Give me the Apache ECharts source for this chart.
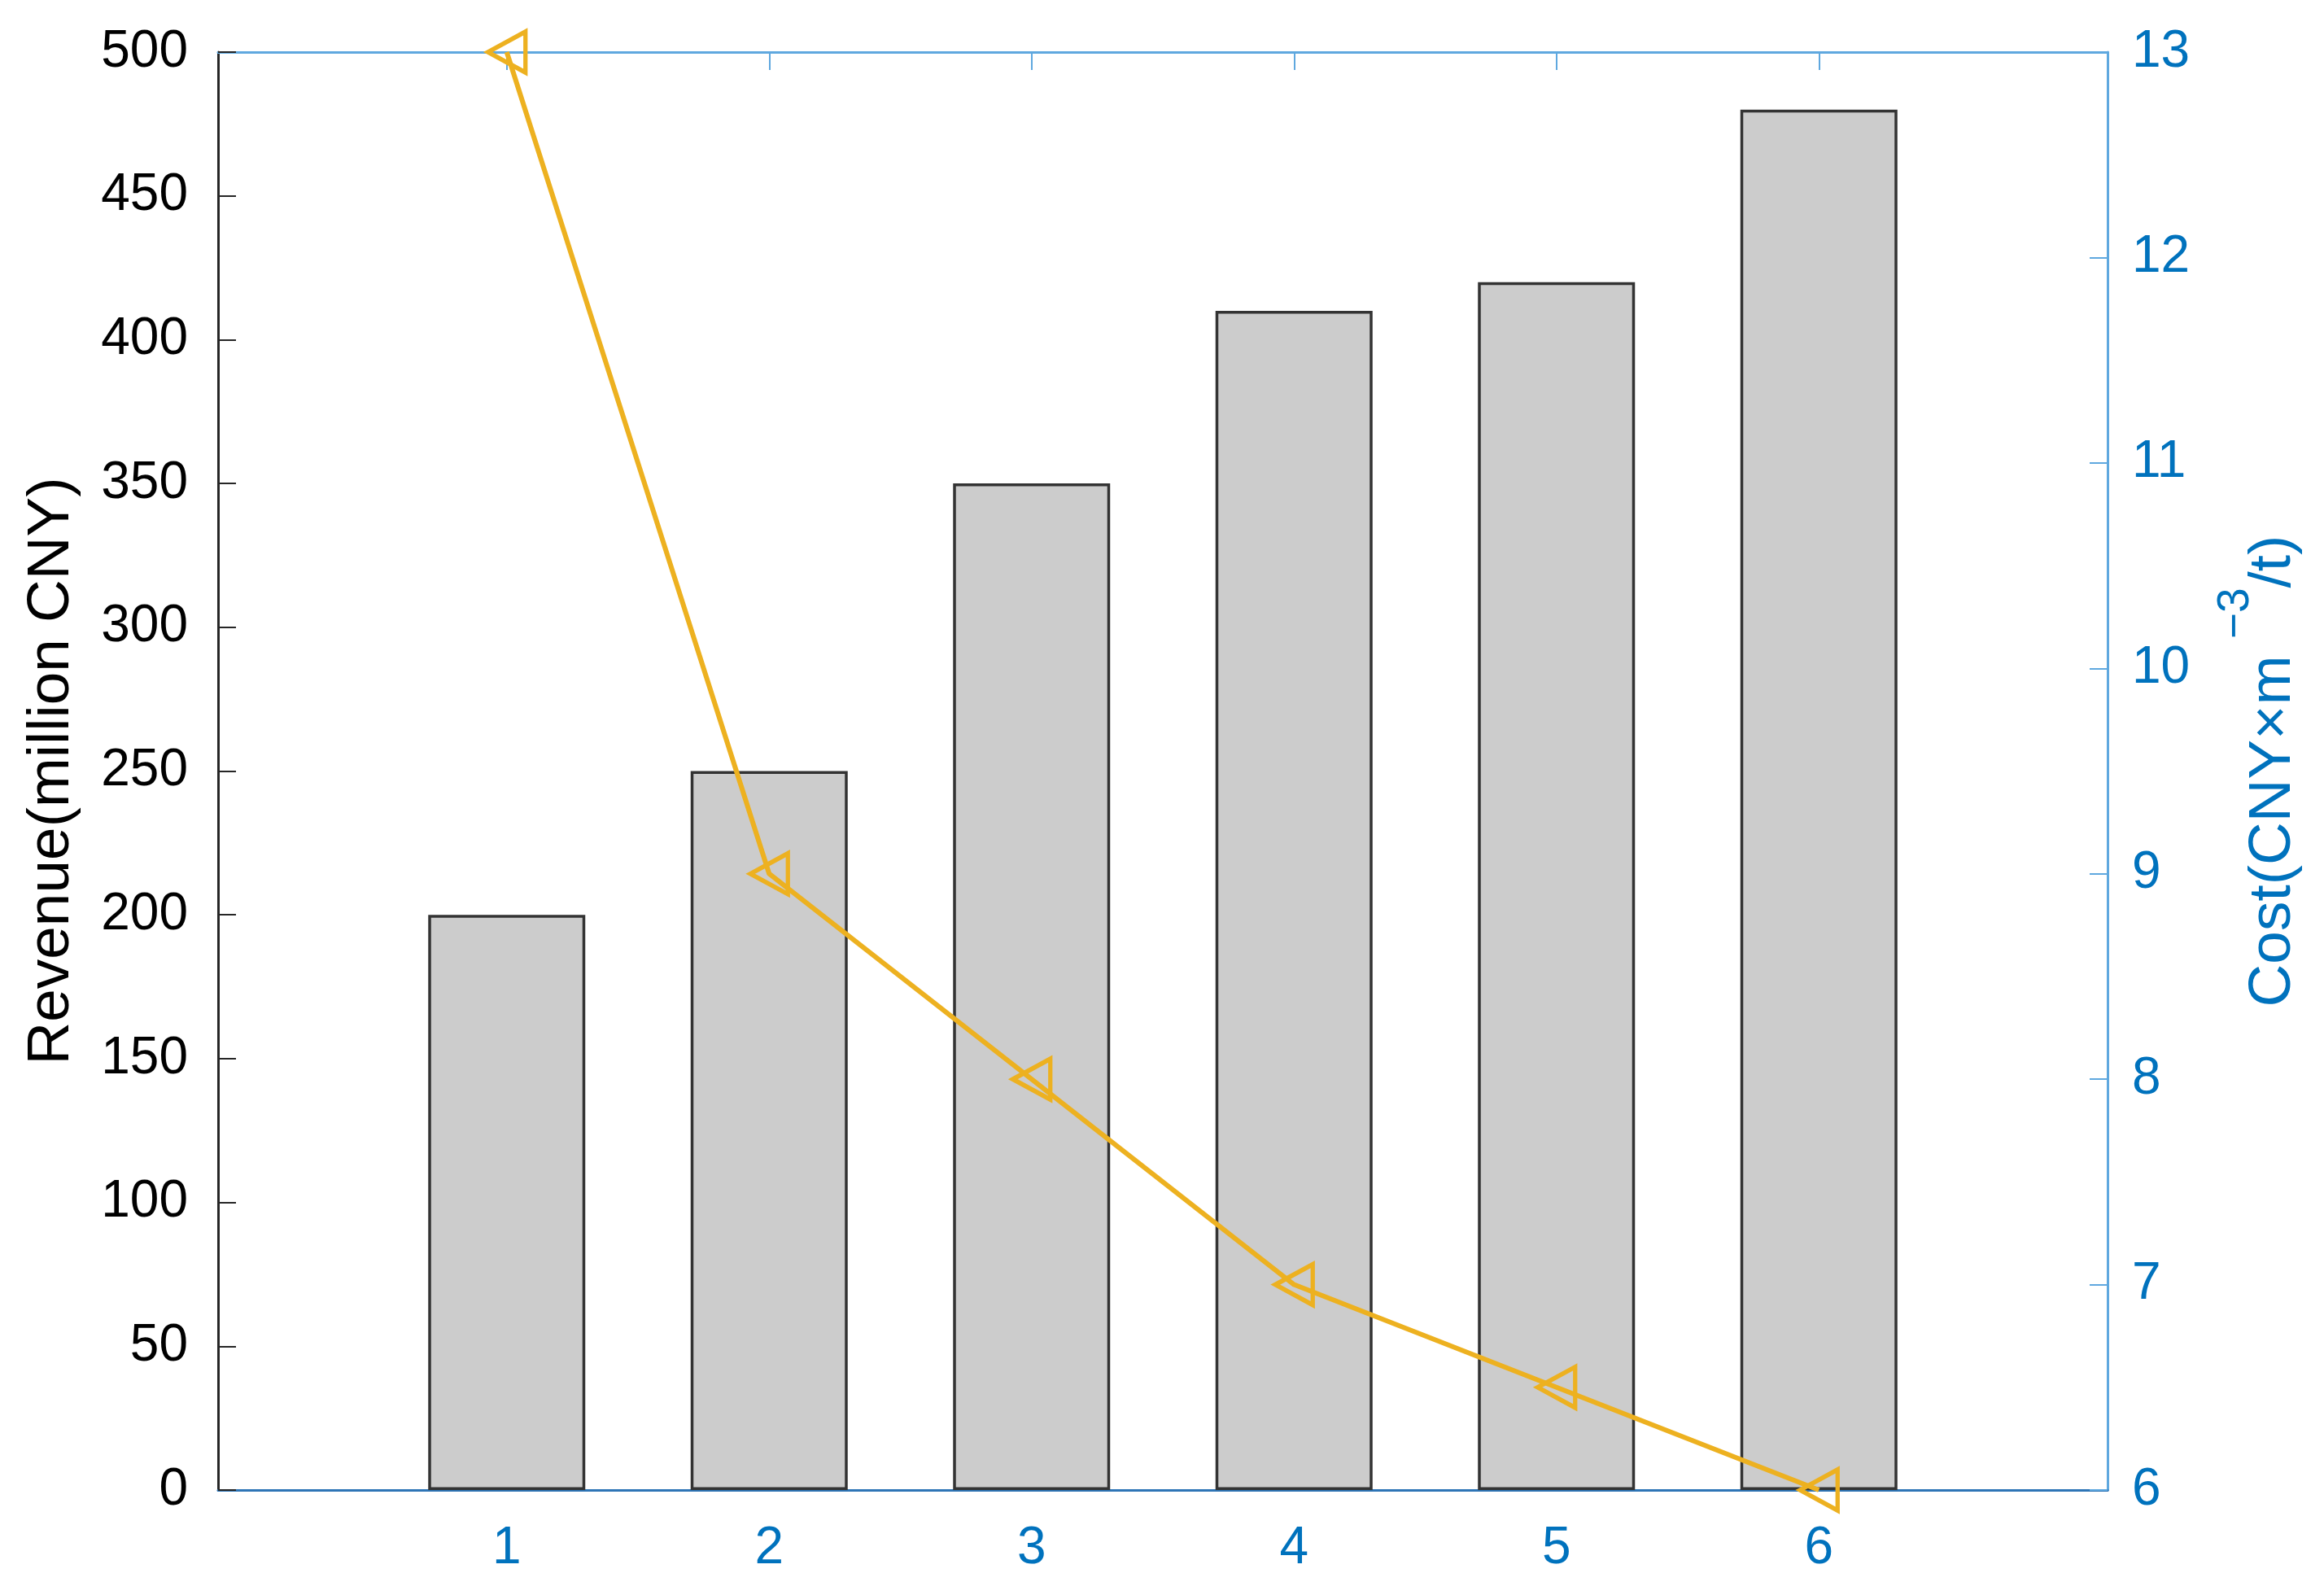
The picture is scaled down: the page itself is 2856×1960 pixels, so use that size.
<!DOCTYPE html>
<html>
<head>
<meta charset="utf-8">
<script src="https://cdn.jsdelivr.net/npm/echarts@6/dist/echarts.min.js"></script>
<style>html,body{margin:0;padding:0;background:#fff}#c{width:2856px;height:1960px}</style>
</head>
<body>
<div id="c"></div>
<script>
const categories = [1, 2, 3, 4, 5, 6];
const revenue = [200, 250, 350, 410, 420, 480];
const cost = [13, 9, 8, 7, 6.5, 6];
const leftTicks = [0, 50, 100, 150, 200, 250, 300, 350, 400, 450, 500];
const rightTicks = [6, 7, 8, 9, 10, 11, 12, 13];

const FONT = '"Liberation Sans", Arial, sans-serif';
const BLUE = '#0072BD';
const chart = echarts.init(document.getElementById('c'), null, {renderer: 'canvas'});

const xCommon = {
  type: 'value', min: -0.1, max: 7.1,
  splitLine: {show: false}
};

chart.setOption({
  backgroundColor: '#fff',
  animation: false,
  grid: {left: 268, right: 266, top: 64, bottom: 129, containLabel: false},
  xAxis: [
    Object.assign({}, xCommon, {
      position: 'bottom',
      axisLine: {show: true, onZero: false, lineStyle: {color: '#2E75B6', width: 3}},
      axisTick: {show: true, inside: true, length: 22, customValues: categories, lineStyle: {color: '#2E75B6', width: 2}},
      axisLabel: {show: true, customValues: categories, color: BLUE, fontSize: 64, fontFamily: FONT, margin: 40}
    }),
    Object.assign({}, xCommon, {
      position: 'top',
      axisLine: {show: true, onZero: false, lineStyle: {color: '#5FA8DF', width: 3}},
      axisTick: {show: true, inside: true, length: 22, customValues: categories, lineStyle: {color: '#5FA8DF', width: 2}},
      axisLabel: {show: false}
    })
  ],
  yAxis: [
    {
      type: 'value', position: 'left', min: 0, max: 500, interval: 50,
      name: 'Revenue(million CNY)', nameLocation: 'middle', nameRotate: 90, nameGap: 168,
      nameTextStyle: {fontSize: 73, fontFamily: FONT, color: '#000'},
      axisLine: {show: true, onZero: false, lineStyle: {color: '#262626', width: 3}},
      axisTick: {show: true, inside: true, length: 22, lineStyle: {color: '#262626', width: 2}},
      axisLabel: {color: '#000', fontSize: 64, fontFamily: FONT, margin: 37,
        customValues: leftTicks},
      splitLine: {show: false}
    },
    {
      type: 'value', position: 'right', min: 6, max: 13, interval: 1,
      name: '{a|Cost(CNY×m }{s|−3}{a|/t)}', nameLocation: 'middle', nameRotate: 90, nameGap: 130,
      nameTextStyle: {
        fontSize: 73, fontFamily: FONT, color: BLUE,
        rich: {
          a: {fontSize: 73, fontFamily: FONT, color: BLUE, verticalAlign: 'bottom', lineHeight: 110},
          s: {fontSize: 55, fontFamily: FONT, color: BLUE, verticalAlign: 'top', lineHeight: 110}
        }
      },
      axisLine: {show: true, onZero: false, lineStyle: {color: '#5FA8DF', width: 3}},
      axisTick: {show: true, inside: true, length: 22, lineStyle: {color: '#5FA8DF', width: 2}},
      axisLabel: {color: BLUE, fontSize: 64, fontFamily: FONT, margin: 30,
        customValues: rightTicks},
      splitLine: {show: false}
    }
  ],
  series: [
    {
      type: 'bar', xAxisIndex: 0, yAxisIndex: 0,
      data: categories.map((c, i) => [c, revenue[i]]),
      barWidth: 193,
      itemStyle: {color: '#CCCCCC', borderColor: '#333333', borderWidth: 3.5},
      z: 2
    },
    {
      type: 'line', xAxisIndex: 0, yAxisIndex: 1,
      data: categories.map((c, i) => [c, cost[i]]),
      symbol: 'triangle', symbolRotate: 90, symbolSize: [50, 46], showSymbol: true,
      lineStyle: {color: '#EDB120', width: 6},
      itemStyle: {color: 'rgba(0,0,0,0)', borderColor: '#EDB120', borderWidth: 5.5},
      z: 3
    }
  ]
});
</script>
</body>
</html>
